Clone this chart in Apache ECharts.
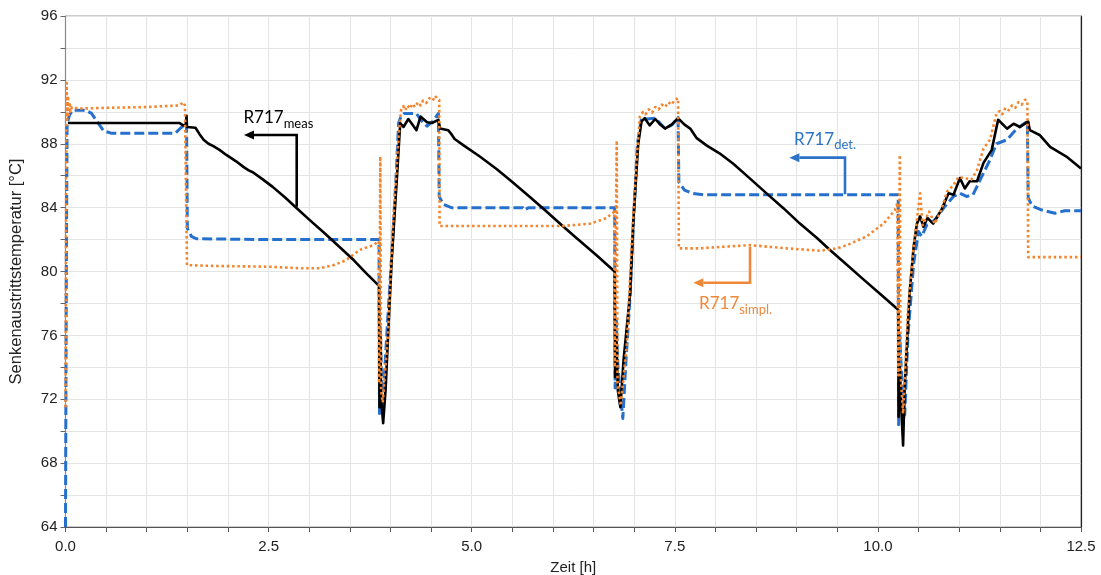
<!DOCTYPE html>
<html>
<head>
<meta charset="utf-8">
<script src="https://cdn.jsdelivr.net/npm/echarts@6/dist/echarts.min.js"></script>
<style>
  html, body { margin: 0; padding: 0; background: #ffffff; }
  #chart { width: 1101px; height: 575px; }
</style>
</head>
<body>
<div id="chart"></div>
<script>
// Sink outlet temperature over time: measurement vs. detailed and simplified model
const xTickLabels = ['0.0', '2.5', '5.0', '7.5', '10.0', '12.5'];
const yTickLabels = [64, 68, 72, 76, 80, 84, 88, 92, 96];

// R717 measured [h, °C]
const measData = [
  [0.03, 89.3], [1.40, 89.3], [1.41, 89.4], [1.45, 89.15], [1.48, 89.2], [1.49, 89.75], [1.495, 89.05],
  [1.60, 89.0], [1.65, 88.6], [1.70, 88.25], [1.76, 88.0], [1.82, 87.85], [1.90, 87.6], [1.98, 87.3],
  [2.10, 86.9], [2.19, 86.55], [2.25, 86.35], [2.31, 86.2], [2.42, 85.8], [2.55, 85.3], [2.70, 84.65],
  [2.85, 83.95], [3.00, 83.25], [3.20, 82.35], [3.38, 81.5], [3.55, 80.7], [3.70, 79.9], [3.86, 79.1],
  [3.865, 71.5], [3.875, 76.0], [3.885, 72.0], [3.91, 70.5], [3.94, 72.6], [3.98, 77.0], [4.015, 80.7],
  [4.08, 85.9], [4.12, 89.3], [4.16, 89.05], [4.22, 89.55], [4.27, 89.2], [4.32, 88.85], [4.37, 89.7],
  [4.45, 89.35], [4.51, 89.3], [4.59, 89.5], [4.61, 88.95], [4.71, 88.85], [4.75, 88.6], [4.79, 88.3],
  [4.90, 87.9], [5.10, 87.2], [5.31, 86.4], [5.50, 85.6], [5.72, 84.65], [5.90, 83.85], [6.13, 82.8],
  [6.30, 82.05], [6.54, 81.0], [6.66, 80.45], [6.76, 80.0], [6.765, 73.4], [6.78, 76.0], [6.80, 72.5],
  [6.83, 71.5], [6.87, 74.5], [6.95, 78.65], [6.99, 83.2], [7.05, 88.0], [7.09, 89.4], [7.13, 89.6],
  [7.19, 89.15], [7.26, 89.55], [7.32, 89.2], [7.38, 88.95], [7.46, 89.2], [7.54, 89.6], [7.62, 89.2],
  [7.69, 88.95], [7.77, 88.35], [7.89, 87.9], [8.05, 87.4], [8.22, 86.75], [8.43, 85.8], [8.65, 84.8],
  [8.84, 83.95], [9.04, 83.0], [9.25, 82.1], [9.41, 81.35], [9.60, 80.5], [9.80, 79.6], [10.05, 78.5],
  [10.25, 77.6], [10.255, 70.9], [10.27, 74.0], [10.29, 71.2], [10.31, 69.1], [10.33, 72.8], [10.39, 78.65],
  [10.44, 81.55], [10.48, 83.0], [10.52, 83.45], [10.56, 82.8], [10.61, 83.35], [10.68, 83.0], [10.78, 83.85],
  [10.87, 84.9], [10.93, 84.8], [11.01, 85.85], [11.07, 85.2], [11.13, 85.65], [11.22, 85.65], [11.30, 86.8],
  [11.40, 87.6], [11.48, 89.5], [11.59, 88.95], [11.67, 89.25], [11.75, 89.05], [11.85, 89.4], [11.87, 88.85],
  [11.99, 88.55], [12.12, 87.8], [12.32, 87.2], [12.5, 86.45]
];

// R717 detailed model [h, °C]
const detData = [
  [0.0, 64.0], [0.01, 80.0], [0.02, 89.3], [0.05, 89.8], [0.09, 90.1], [0.25, 90.1], [0.32, 89.9],
  [0.40, 89.3], [0.47, 88.8], [0.57, 88.65], [1.35, 88.65], [1.42, 89.0], [1.49, 89.3], [1.50, 82.7],
  [1.55, 82.2], [1.61, 82.05], [2.50, 82.0], [3.50, 82.0], [3.86, 82.0], [3.865, 71.1], [3.875, 76.5],
  [3.90, 71.5], [3.92, 73.0], [3.96, 76.5], [4.015, 81.0], [4.07, 86.0], [4.10, 89.3], [4.13, 89.7],
  [4.17, 89.9], [4.32, 89.9], [4.37, 89.5], [4.45, 89.1], [4.52, 89.4], [4.59, 89.9], [4.60, 84.7],
  [4.65, 84.2], [4.75, 84.0], [5.63, 84.0], [5.65, 83.85], [5.70, 84.0], [6.76, 84.0], [6.765, 72.7],
  [6.78, 77.0], [6.80, 74.0], [6.86, 70.8], [6.90, 74.5], [6.95, 78.5], [6.99, 83.0], [7.04, 88.0],
  [7.09, 89.6], [7.16, 89.55], [7.26, 89.6], [7.38, 88.95], [7.47, 89.2], [7.54, 89.65], [7.55, 85.6],
  [7.62, 85.1], [7.71, 84.9], [7.85, 84.8], [10.25, 84.8], [10.255, 70.4], [10.27, 76.0], [10.30, 72.5],
  [10.33, 71.0], [10.37, 76.0], [10.44, 80.5], [10.50, 82.5], [10.54, 82.2], [10.60, 82.9], [10.65, 83.0],
  [10.72, 83.35], [10.82, 84.05], [10.93, 84.7], [11.01, 84.9], [11.09, 84.7], [11.17, 84.8], [11.26, 85.75],
  [11.38, 87.0], [11.46, 88.0], [11.59, 88.25], [11.71, 88.95], [11.84, 89.4], [11.85, 84.6], [11.90, 84.1],
  [12.02, 83.85], [12.18, 83.65], [12.30, 83.8], [12.5, 83.8]
];

// R717 simplified model [h, °C]
const simplData = [
  [0.0, 71.5], [0.01, 88.0], [0.015, 91.8], [0.02, 89.5], [0.03, 91.0], [0.04, 89.8], [0.05, 90.6],
  [0.06, 90.0], [0.08, 90.3], [0.15, 90.2], [0.50, 90.25], [1.00, 90.3], [1.40, 90.4], [1.45, 90.6],
  [1.47, 90.4], [1.49, 90.5], [1.495, 80.4], [1.80, 80.35], [2.50, 80.3], [2.90, 80.2], [3.13, 80.2],
  [3.30, 80.4], [3.45, 80.7], [3.62, 81.35], [3.79, 81.65], [3.855, 81.9], [3.86, 73.0], [3.875, 87.2],
  [3.885, 72.5], [3.905, 71.8], [3.97, 76.15], [4.03, 82.8], [4.10, 88.45], [4.13, 90.1], [4.16, 90.35],
  [4.18, 90.1], [4.21, 90.4], [4.24, 90.2], [4.27, 90.5], [4.30, 90.3], [4.34, 90.6], [4.37, 90.4],
  [4.40, 90.7], [4.44, 90.55], [4.48, 90.85], [4.52, 90.7], [4.55, 91.0], [4.57, 90.85], [4.60, 90.75],
  [4.605, 82.85], [5.00, 82.85], [5.50, 82.85], [6.13, 82.85], [6.46, 83.0], [6.66, 83.35], [6.755, 83.75],
  [6.76, 74.0], [6.785, 88.2], [6.795, 73.0], [6.835, 71.6], [6.91, 75.5], [6.97, 81.8], [7.03, 87.0],
  [7.07, 89.7], [7.11, 90.0], [7.14, 89.85], [7.18, 90.15], [7.22, 89.95], [7.26, 90.3], [7.30, 90.15],
  [7.34, 90.45], [7.38, 90.3], [7.42, 90.6], [7.46, 90.45], [7.50, 90.75], [7.54, 90.85], [7.55, 81.45],
  [7.81, 81.45], [8.10, 81.55], [8.43, 81.65], [8.88, 81.45], [9.29, 81.3], [9.50, 81.45], [9.62, 81.65],
  [9.86, 82.2], [10.07, 83.0], [10.21, 83.85], [10.24, 84.3], [10.25, 73.5], [10.27, 87.3], [10.28, 73.5],
  [10.31, 71.1], [10.37, 77.6], [10.44, 81.55], [10.48, 83.25], [10.52, 84.9], [10.55, 82.9], [10.63, 83.75],
  [10.70, 83.0], [10.78, 83.85], [10.85, 85.0], [10.93, 85.4], [10.99, 85.9], [11.07, 85.85], [11.15, 85.75],
  [11.22, 86.35], [11.30, 87.7], [11.38, 88.25], [11.46, 89.9], [11.50, 90.05], [11.53, 89.85], [11.57, 90.25],
  [11.61, 90.1], [11.65, 90.4], [11.69, 90.25], [11.73, 90.6], [11.77, 90.45], [11.81, 90.75], [11.84, 90.7],
  [11.85, 80.9], [12.5, 80.9]
];

// Callout labels with bracket arrows, anchored in axis units [h, °C]
const callouts = [
  { name: 'R717', sub: 'meas', color: '#000000', baseline: [2.19, 89.38],
    path: [[2.846, 84.06], [2.846, 88.55], [2.197, 88.55]] },
  { name: 'R717', sub: 'det.', color: '#2c72c6', baseline: [8.967, 88.03],
    path: [[9.595, 84.84], [9.595, 87.13], [8.91, 87.13]] },
  { name: 'R717', sub: 'simpl.', color: '#f0883a', baseline: [7.798, 77.75],
    path: [[8.426, 81.55], [8.426, 79.3], [7.728, 79.3]] }
];

const BLUE = '#2470cc';
const ORANGE = '#f4852f';
const labelFont = 'Liberation Sans, Arial, sans-serif';

const chart = echarts.init(document.getElementById('chart'), null, { renderer: 'canvas' });

const xLabelSet = new Set(xTickLabels);
const yLabelSet = new Set(yTickLabels);

chart.setOption({
  animation: false,
  backgroundColor: '#ffffff',
  grid: {
    left: 65.5, right: 20, top: 16, bottom: 48, containLabel: false, outerBoundsMode: 'none',
    show: true, borderColor: '#9a9a9a', borderWidth: 1
  },
  xAxis: [{
    type: 'value', min: 0, max: 12.5, interval: 0.5,
    name: 'Zeit [h]', nameLocation: 'middle', nameGap: 33,
    nameTextStyle: { color: '#222', fontSize: 15, fontFamily: labelFont },
    axisLine: { show: true, onZero: false, lineStyle: { color: '#555555', width: 1.2 } },
    axisTick: { show: true, length: 5, lineStyle: { color: '#555555' } },
    axisLabel: {
      color: '#222', fontSize: 15, fontFamily: labelFont, margin: 12, interval: 0,
      formatter: v => { const s = v.toFixed(1); return xLabelSet.has(s) ? s : ''; }
    },
    splitLine: { show: true, lineStyle: { color: '#e4e4e4', width: 1 } }
  }],
  yAxis: [{
    type: 'value', min: 64, max: 96, interval: 2,
    name: 'Senkenaustrittstemperatur [°C]', nameLocation: 'middle', nameGap: 41,
    nameTextStyle: { color: '#222', fontSize: 16.5, fontFamily: labelFont },
    axisLine: { show: true, onZero: false, lineStyle: { color: '#8a8a8a', width: 1.2 } },
    axisTick: { show: true, length: 5, lineStyle: { color: '#666666' } },
    axisLabel: {
      color: '#222', fontSize: 15, fontFamily: labelFont, margin: 8, interval: 0,
      formatter: v => (yLabelSet.has(v) ? String(v) : '')
    },
    splitLine: { show: true, lineStyle: { color: '#e4e4e4', width: 1 } }
  }, {
    type: 'value', min: 64, max: 96, interval: 2, position: 'right',
    axisLine: { show: true, onZero: false, lineStyle: { color: '#222222', width: 1.2 } },
    axisTick: { show: false }, axisLabel: { show: false }, splitLine: { show: false }
  }],
  series: [
    {
      name: 'R717 det.', type: 'line', data: detData, showSymbol: false, symbol: 'none', z: 2,
      lineStyle: { color: BLUE, width: 3, type: [10, 4], cap: 'butt', join: 'round' }
    },
    {
      name: 'R717 meas', type: 'line', data: measData, showSymbol: false, symbol: 'none', z: 3,
      lineStyle: { color: '#000000', width: 2.6, type: 'solid', join: 'round' }
    },
    {
      name: 'R717 simpl.', type: 'line', data: simplData, showSymbol: false, symbol: 'none', z: 4,
      lineStyle: { color: ORANGE, width: 2.6, type: [2.5, 2.8], cap: 'butt', join: 'round' }
    }
  ]
});

// Bracket arrows and subscripted labels, positioned through the grid's coordinate system
function buildCallouts() {
  const toPx = p => chart.convertToPixel({ gridIndex: 0 }, p);
  const elements = [];
  callouts.forEach(c => {
    const pts = c.path.map(toPx);
    const tip = pts[pts.length - 1];
    const prev = pts[pts.length - 2];
    const ang = Math.atan2(tip[1] - prev[1], tip[0] - prev[0]);
    const L = 10, W = 4.5;
    const cos = Math.cos(ang), sin = Math.sin(ang);
    const base = [tip[0] - L * cos, tip[1] - L * sin];
    const shaft = pts.slice(0, -1).concat([base]);
    elements.push({
      type: 'polyline', z: 100, silent: true,
      shape: { points: shaft },
      style: { stroke: c.color, lineWidth: 2.6, fill: null, lineJoin: 'miter' }
    });
    elements.push({
      type: 'polygon', z: 100, silent: true,
      shape: { points: [tip, [base[0] - W * sin, base[1] + W * cos], [base[0] + W * sin, base[1] - W * cos]] },
      style: { fill: c.color, stroke: null }
    });
    const b = toPx(c.baseline);
    elements.push({
      type: 'text', z: 101, silent: true,
      x: b[0], y: b[1] + 8.5,
      style: {
        text: '{m|' + c.name + '}{s|' + c.sub + '}',
        align: 'left', verticalAlign: 'bottom',
        rich: {
          m: { fontSize: 17, fontFamily: 'Lato, sans-serif', lineHeight: 20, padding: [0, 0, 4, 0],
               verticalAlign: 'bottom', fill: c.color },
          s: { fontSize: 13, fontFamily: 'Lato, sans-serif', lineHeight: 15,
               verticalAlign: 'bottom', fill: c.color }
        }
      }
    });
  });
  chart.setOption({ graphic: elements });
}
buildCallouts();
</script>
</body>
</html>
